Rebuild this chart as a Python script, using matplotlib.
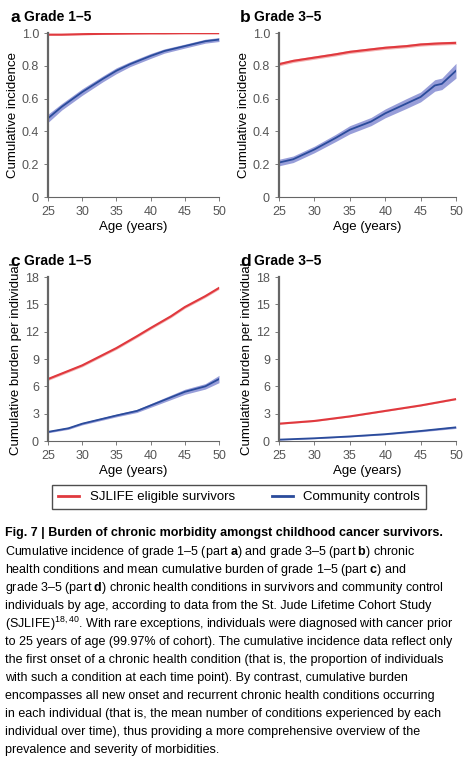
import matplotlib.pyplot as plt
import numpy as np

plt.rcParams['font.family'] = ['Liberation Sans', 'DejaVu Sans']
plt.rcParams['mathtext.fontset'] = 'custom'
plt.rcParams['mathtext.rm'] = 'Liberation Sans'
plt.rcParams['mathtext.bf'] = 'Liberation Sans:bold'

# values
age_a = [25, 27, 30, 33, 35, 37, 40, 42, 45, 48, 50]
red_a = [0.99, 0.99, 0.993, 0.995, 0.996, 0.997, 0.998, 0.998, 0.999, 0.999, 0.999]
blue_a = [0.48, 0.55, 0.64, 0.72, 0.77, 0.81, 0.86, 0.89, 0.92, 0.95, 0.96]
band_a = [0.025, 0.02, 0.02, 0.018, 0.018, 0.015, 0.015, 0.013, 0.012, 0.012, 0.012]

age_b = [25, 27, 30, 33, 35, 38, 40, 43, 45, 47, 48, 50]
red_b = [0.81, 0.83, 0.85, 0.87, 0.885, 0.9, 0.91, 0.92, 0.93, 0.935, 0.937, 0.94]
blue_b = [0.21, 0.23, 0.29, 0.36, 0.41, 0.46, 0.51, 0.57, 0.61, 0.68, 0.69, 0.77]
band_b = [0.02, 0.02, 0.02, 0.022, 0.025, 0.025, 0.027, 0.03, 0.03, 0.035, 0.035, 0.045]

age_c = [25, 28, 30, 35, 38, 40, 43, 45, 48, 50]
red_c = [6.8, 7.7, 8.3, 10.2, 11.5, 12.4, 13.7, 14.7, 15.9, 16.8]
blue_c = [1.0, 1.4, 1.9, 2.8, 3.3, 3.9, 4.8, 5.4, 6.0, 6.8]
band_c = [0.1, 0.12, 0.13, 0.15, 0.17, 0.2, 0.25, 0.28, 0.3, 0.4]

age_d = [25, 30, 35, 40, 45, 50]
red_d = [1.9, 2.2, 2.7, 3.3, 3.9, 4.6]
blue_d = [0.15, 0.3, 0.5, 0.75, 1.1, 1.5]
band_d = [0.05, 0.05, 0.06, 0.07, 0.09, 0.12]

RED = '#e0393e'
BLUE = '#2a4b9b'
BAND = '#7f86d0'
GREY = '#555555'

fig = plt.figure(figsize=(4.64, 7.58), dpi=100)
W, H = 464, 758

def px_axes(x0, y0, x1, y1):
    return fig.add_axes([x0 / W, 1 - y1 / H, (x1 - x0) / W, (y1 - y0) / H])

def style(ax, ylim, yticks, yticklabels, ylabel, letter, title):
    ax.set_xlim(25, 50)
    ax.set_ylim(*ylim)
    ax.set_xticks([25, 30, 35, 40, 45, 50])
    ax.set_yticks(yticks)
    ax.set_yticklabels(yticklabels)
    for s in ['top', 'right']:
        ax.spines[s].set_visible(False)
    ax.spines['left'].set_color('#666666')
    ax.spines['left'].set_linewidth(1.6)
    ax.spines['bottom'].set_color('#666666')
    ax.spines['bottom'].set_linewidth(0.8)
    ax.tick_params(labelsize=9, colors='#666666', labelcolor=GREY, length=3, width=0.6)
    ax.set_xlabel('Age (years)', fontsize=9.5, labelpad=2)
    ax.set_ylabel(ylabel, fontsize=9.5, labelpad=2)
    ax.text(-0.22, 1.05, letter, transform=ax.transAxes, fontsize=12.5, fontweight='bold', va='bottom')
    ax.text(-0.14, 1.055, title, transform=ax.transAxes, fontsize=10, fontweight='bold', va='bottom')

def draw(ax, age, red, blue, band, red_band):
    age = np.array(age)
    ax.fill_between(age, np.array(red) - red_band, np.array(red) + red_band, color='#f2a0a0', lw=0, alpha=0.8)
    ax.plot(age, red, color=RED, lw=1.5)
    ax.fill_between(age, np.array(blue) - np.array(band), np.array(blue) + np.array(band), color=BAND, lw=0, alpha=0.8)
    ax.plot(age, blue, color=BLUE, lw=1.3)

inc_ticks = [0, 0.2, 0.4, 0.6, 0.8, 1.0]
inc_labels = ['0', '0.2', '0.4', '0.6', '0.8', '1.0']
bur_ticks = [0, 3, 6, 9, 12, 15, 18]
bur_labels = ['0', '3', '6', '9', '12', '15', '18']

ax_a = px_axes(48, 33, 219, 197)
draw(ax_a, age_a, red_a, blue_a, band_a, 0.004)
style(ax_a, (0, 1.0), inc_ticks, inc_labels, 'Cumulative incidence', 'a', 'Grade 1–5')

ax_b = px_axes(279, 33, 456, 197)
draw(ax_b, age_b, red_b, blue_b, band_b, 0.01)
style(ax_b, (0, 1.0), inc_ticks, inc_labels, 'Cumulative incidence', 'b', 'Grade 3–5')

ax_c = px_axes(48, 277, 219, 441)
draw(ax_c, age_c, red_c, blue_c, band_c, 0.15)
style(ax_c, (0, 18), bur_ticks, bur_labels, 'Cumulative burden per individual', 'c', 'Grade 1–5')

ax_d = px_axes(279, 277, 456, 441)
draw(ax_d, age_d, red_d, blue_d, band_d, 0.06)
style(ax_d, (0, 18), bur_ticks, bur_labels, 'Cumulative burden per individual', 'd', 'Grade 3–5')

h1, = ax_a.plot([], [], color=RED, lw=2)
h2, = ax_a.plot([], [], color=BLUE, lw=2)
leg = fig.legend([h1, h2], ['SJLIFE eligible survivors', 'Community controls'],
                 loc='center', bbox_to_anchor=(239 / W, 1 - 497 / H), ncol=2,
                 fontsize=9.5, frameon=True, fancybox=False, handlelength=1.6,
                 columnspacing=2.8, borderpad=0.45)
leg.get_frame().set_edgecolor('#222222')
leg.get_frame().set_linewidth(1.0)

caption = [
    r'Cumulative incidence of grade 1–5 (part $\mathbf{a}$) and grade 3–5 (part $\mathbf{b}$) chronic',
    r'health conditions and mean cumulative burden of grade 1–5 (part $\mathbf{c}$) and',
    r'grade 3–5 (part $\mathbf{d}$) chronic health conditions in survivors and community control',
    'individuals by age, according to data from the St. Jude Lifetime Cohort Study',
    r'(SJLIFE)$^{18,40}$. With rare exceptions, individuals were diagnosed with cancer prior',
    'to 25 years of age (99.97% of cohort). The cumulative incidence data reflect only',
    'the first onset of a chronic health condition (that is, the proportion of individuals',
    'with such a condition at each time point). By contrast, cumulative burden',
    'encompasses all new onset and recurrent chronic health conditions occurring',
    'in each individual (that is, the mean number of conditions experienced by each',
    'individual over time), thus providing a more comprehensive overview of the',
    'prevalence and severity of morbidities.',
]
fig.text(5 / W, 1 - 533 / H, 'Fig. 7 | Burden of chronic morbidity amongst childhood cancer survivors.',
         fontsize=9, fontweight='bold', va='center')
for i, line in enumerate(caption):
    fig.text(5 / W, 1 - (552 + i * 18.0) / H, line, fontsize=9, va='center')

fig.savefig('out.png', dpi=100)
